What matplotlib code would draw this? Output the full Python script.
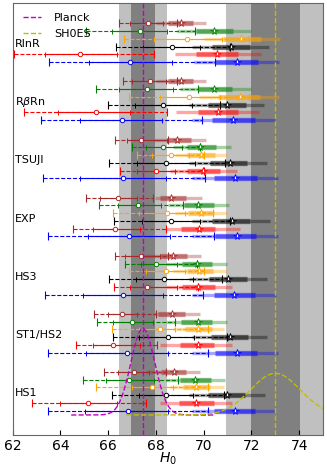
import numpy as np
import matplotlib
matplotlib.use('Agg')
import matplotlib.pyplot as plt

groups = ['RlnR', r'R$\beta$Rn', 'TSUJI', 'EXP', 'HS3', 'ST1/HS2', 'HS1']
colors = ['brown', 'green', 'orange', 'k', 'r', 'b']

planck_h0, planck_sig = 67.45, 0.5
shoes_h0, shoes_sig = 73.0, 1.04

# circle points (one row per group, columns follow colors)
c_mid = [[67.68, 67.31, 69.29, 68.66, 64.82, 66.92],
         [67.75, 67.61, 69.40, 68.31, 65.49, 66.57],
         [67.38, 68.31, 68.62, 68.42, 68.00, 66.61],
         [66.39, 67.24, 68.45, 68.63, 66.29, 66.85],
         [67.36, 68.00, 68.41, 68.34, 67.64, 66.61],
         [66.57, 66.99, 68.17, 68.49, 66.18, 66.80],
         [67.06, 66.89, 67.82, 68.42, 65.14, 66.82]]
c_lo95 = [[66.47, 65.07, 66.67, 66.33, 62.06, 63.50],
          [66.60, 65.48, 66.89, 66.00, 62.49, 63.17],
          [66.29, 66.99, 67.20, 66.04, 66.50, 63.26],
          [65.06, 65.62, 66.19, 66.26, 64.51, 63.49],
          [66.29, 66.71, 66.89, 66.05, 66.26, 63.33],
          [65.41, 65.52, 66.15, 66.19, 64.65, 63.47],
          [65.83, 64.96, 65.48, 66.15, 62.80, 63.49]]
c_hi95 = [[68.90, 69.64, 71.90, 71.10, 67.90, 70.48],
          [68.90, 69.78, 71.90, 70.69, 68.45, 69.92],
          [68.50, 69.85, 70.00, 70.90, 70.02, 70.06],
          [67.87, 69.12, 70.40, 71.10, 68.41, 70.41],
          [68.50, 69.71, 70.00, 70.76, 69.78, 69.99],
          [68.00, 68.80, 70.20, 70.97, 68.03, 70.20],
          [68.41, 68.94, 70.20, 70.83, 67.57, 70.20]]
c_lo68 = [[66.90, 66.15, 67.90, 67.47, 63.35, 65.20],
          [67.00, 66.43, 68.17, 67.12, 63.91, 64.82],
          [66.80, 67.60, 67.82, 67.20, 67.20, 64.82],
          [65.66, 66.39, 67.30, 67.41, 65.38, 65.17],
          [66.70, 67.36, 67.60, 67.17, 66.90, 64.93],
          [66.00, 66.19, 67.30, 67.30, 65.38, 65.07],
          [66.40, 65.91, 67.00, 67.27, 63.96, 65.03]]
c_hi68 = [[68.30, 68.45, 70.75, 69.85, 66.36, 68.66],
          [68.40, 68.73, 70.70, 69.50, 66.92, 68.24],
          [68.45, 69.08, 69.40, 69.64, 68.80, 68.41],
          [67.20, 68.22, 69.20, 69.85, 67.34, 68.59],
          [68.15, 68.90, 69.20, 69.54, 68.90, 68.31],
          [67.20, 67.89, 68.80, 69.60, 67.34, 68.52],
          [67.70, 67.92, 68.70, 69.57, 66.36, 68.52]]

# star points
s_mid = [[69.04, 70.45, 71.56, 71.15, 70.56, 71.38],
         [69.05, 70.45, 71.52, 70.96, 70.58, 71.24],
         [68.87, 69.85, 69.89, 71.08, 69.99, 71.31],
         [68.63, 69.75, 69.88, 71.18, 69.82, 71.39],
         [68.73, 69.71, 69.82, 71.01, 69.78, 71.25],
         [68.66, 69.74, 69.78, 71.08, 69.78, 71.39],
         [68.76, 69.64, 69.68, 70.97, 69.68, 71.29]]
s_lo68 = [[68.51, 69.67, 70.80, 70.33, 69.68, 70.47],
          [68.51, 69.78, 70.60, 70.20, 69.74, 70.33],
          [68.52, 69.29, 69.29, 70.27, 69.29, 70.43],
          [68.17, 69.19, 69.33, 70.34, 69.05, 70.48],
          [68.15, 69.08, 69.29, 70.24, 69.08, 70.41],
          [68.10, 69.05, 69.22, 70.31, 69.01, 70.48],
          [68.20, 69.01, 69.12, 70.20, 68.97, 70.41]]
s_hi68 = [[69.55, 71.22, 72.39, 71.94, 71.44, 72.29],
          [69.55, 71.20, 72.36, 71.77, 71.45, 72.15],
          [69.46, 70.52, 70.48, 71.83, 70.68, 72.22],
          [69.26, 70.41, 70.41, 71.92, 70.48, 72.20],
          [69.29, 70.34, 70.38, 71.80, 70.48, 72.15],
          [69.22, 70.34, 70.34, 71.87, 70.41, 72.22],
          [69.25, 70.30, 70.27, 71.74, 70.41, 72.15]]
s_lo95 = [[68.00, 68.90, 70.00, 69.50, 68.80, 69.60],
          [68.00, 69.00, 69.80, 69.40, 68.84, 69.50],
          [67.90, 68.70, 68.80, 69.40, 68.60, 69.50],
          [67.95, 68.50, 68.80, 69.50, 68.41, 69.50],
          [67.50, 68.40, 68.70, 69.40, 68.40, 69.50],
          [67.90, 68.40, 68.70, 69.50, 68.17, 69.50],
          [67.60, 68.40, 68.60, 69.40, 68.17, 69.50]]
s_hi95 = [[70.08, 72.00, 73.20, 72.74, 72.40, 73.16],
          [70.10, 72.00, 73.16, 72.54, 72.30, 72.99],
          [70.09, 71.13, 70.97, 72.67, 71.40, 73.10],
          [69.92, 71.05, 70.97, 72.76, 71.52, 73.13],
          [69.89, 70.97, 70.97, 72.64, 71.18, 73.03],
          [69.85, 70.97, 70.85, 72.64, 71.18, 73.13],
          [69.85, 70.90, 70.83, 72.57, 71.18, 72.99]]

fig = plt.figure(figsize=(3.27, 4.72), dpi=100)
ax = fig.add_axes([0.039, 0.0794, 0.949, 0.9136])

# bands
ax.axvspan(planck_h0 - 2*planck_sig, planck_h0 + 2*planck_sig, color='#c0c0c0', lw=0, zorder=0)
ax.axvspan(shoes_h0 - 2*shoes_sig, shoes_h0 + 2*shoes_sig, color='#c0c0c0', lw=0, zorder=0)
ax.axvspan(planck_h0 - planck_sig, planck_h0 + planck_sig, color='#808080', lw=0, zorder=0)
ax.axvspan(shoes_h0 - shoes_sig, shoes_h0 + shoes_sig, color='#808080', lw=0, zorder=0)

for g in range(len(groups)):
    for s in range(len(colors)):
        y = -(7.5*g + s)
        col = colors[s]
        ax.plot([s_lo95[g][s], s_hi95[g][s]], [y, y], color=col, lw=2.4, alpha=0.35,
                solid_capstyle='butt', zorder=2)
        ax.plot([s_lo68[g][s], s_hi68[g][s]], [y, y], color=col, lw=3.8, alpha=0.5,
                solid_capstyle='butt', zorder=2)
        c = c_mid[g][s]
        eb = ax.errorbar(c, y, xerr=[[c - c_lo95[g][s]], [c_hi95[g][s] - c]], fmt='none',
                         ecolor=col, elinewidth=0.8, capsize=3.2, capthick=0.8, zorder=3)
        eb[2][0].set_linestyle('--')
        ax.errorbar(c, y, xerr=[[c - c_lo68[g][s]], [c_hi68[g][s] - c]], fmt='o', color=col,
                    mfc='w', mec=col, ms=3.2, mew=0.7, elinewidth=0.8, capsize=1.8,
                    capthick=0.7, zorder=4)
        ax.plot(s_mid[g][s], y, marker='*', ms=5.5, mfc='w', mec=col, mew=0.6, zorder=5)
    ax.text(62.1, -(7.5*g + 2.7), groups[g], fontsize=8, va='center', ha='left', zorder=6)

ax.axvline(planck_h0, color='m', ls='--', lw=1, label='Planck', zorder=4.5)
ax.axvline(shoes_h0, color='y', ls='--', lw=1, label='SH0ES', zorder=4.5)

# gaussians at the bottom
base, scale = -50.55, 14.0
for h0, sig, col in [(planck_h0, planck_sig, 'm'), (shoes_h0, shoes_sig, 'y')]:
    xg = np.linspace(h0 - 6*sig, h0 + 6*sig, 400)
    pdf = np.exp(-0.5*((xg - h0)/sig)**2) / (sig*np.sqrt(2*np.pi))
    ax.plot(xg, base + scale*pdf, color=col, ls='--', lw=1, zorder=4.5)

ax.set_xlim(62, 75)
ax.set_ylim(-53.07, 2.58)
ax.set_xticks(np.arange(62, 75, 2))
ax.set_yticks([])
ax.tick_params(axis='x', direction='in', labelsize=10)
ax.set_xlabel('$H_0$', fontsize=10, labelpad=-2)
for sp in ax.spines.values():
    sp.set_color('0.4')
ax.legend(loc='upper left', frameon=False, fontsize=8, handlelength=1.6, handletextpad=1.2)

fig.savefig('out.png', dpi=100)
